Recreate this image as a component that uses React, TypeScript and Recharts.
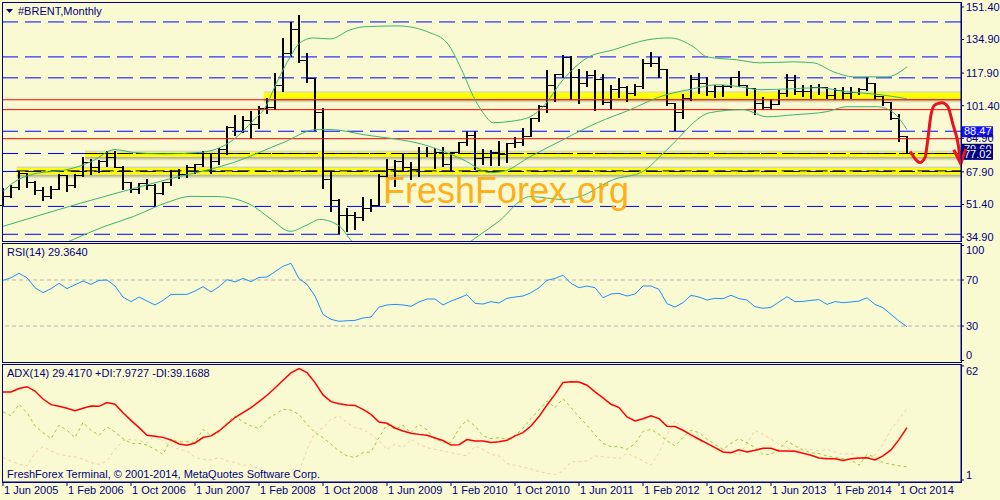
import React from 'react';
import {
  ComposedChart,
  Bar,
  Line,
  XAxis,
  YAxis,
  ReferenceLine,
  ReferenceArea,
  ReferenceDot
} from 'recharts';

const NAVY = '#000080';
const BG = '#FAFAD2';
const FONT = "'Liberation Sans Narrow', 'Liberation Sans', Arial, sans-serif";
const X_DOMAIN: [number, number] = [-0.125, 119.75];

// monthly Brent bars, Jun 2005 .. Nov 2014
const opens = [51.0, 55.6, 60.0, 66.9, 62.6, 58.4, 55.2,
  58.9, 66.3, 61.0, 66.0, 72.6, 70.3, 73.4, 75.3, 70.2, 62.5, 58.9, 61.9,
  60.9, 57.2, 62.3, 68.1, 66.6, 70.0, 71.4, 77.1, 72.9, 79.2, 90.4, 88.4,
  93.8, 91.8, 100.1, 100.3, 111.4, 127.6, 139.8, 124.1, 115.3, 98.2, 64.2, 53.2,
  45.6, 45.9, 44.8, 49.2, 50.9, 65.6, 69.3, 73.2, 69.9, 69.1, 77.0, 77.3,
  77.9, 71.5, 77.6, 82.7, 86.2, 74.6, 75.0, 77.9, 76.6, 82.3, 83.0, 85.9,
  94.8, 101.0, 111.8, 117.4, 125.9, 115.8, 112.5, 116.7, 114.9, 102.8, 109.6, 110.5,
  107.4, 110.9, 122.7, 122.9, 119.5, 102.4, 97.8, 104.9, 114.6, 112.4, 108.7, 111.2,
  111.1, 115.6, 111.4, 110.0, 102.4, 100.4, 102.2, 107.7, 114.1, 108.4, 108.8, 110.8,
  110.8, 106.4, 109.1, 107.8, 108.1, 109.4, 112.4, 106.0, 103.2, 94.7, 85.9];
const highs = [59.5, 61.0, 68.5, 67.5, 63.3, 60.0, 60.6,
  67.0, 66.5, 66.8, 75.5, 74.6, 73.8, 78.6, 78.7, 70.9, 62.9, 62.3, 64.4,
  61.8, 62.6, 68.6, 69.4, 71.3, 72.0, 78.6, 77.6, 80.1, 91.0, 96.5, 96.0,
  98.5, 101.4, 105.5, 117.9, 135.6, 143.8, 147.4, 128.0, 115.4, 100.4, 68.2, 54.0,
  49.5, 47.8, 55.4, 54.0, 66.9, 74.6, 73.8, 77.2, 72.7, 80.5, 80.4, 80.2,
  80.6, 78.0, 83.0, 88.7, 88.6, 79.5, 78.9, 83.3, 82.5, 85.4, 89.9, 95.0,
  101.9, 119.5, 117.6, 127.2, 126.4, 120.1, 119.0, 119.3, 117.4, 112.1, 115.6, 111.6,
  112.2, 125.0, 128.4, 126.2, 120.0, 102.6, 107.5, 116.9, 117.9, 116.0, 112.0, 112.0,
  116.0, 119.2, 112.0, 110.5, 106.0, 105.0, 109.3, 117.3, 117.0, 111.8, 112.0, 112.4,
  111.0, 110.6, 110.7, 110.7, 110.4, 115.7, 113.0, 106.3, 103.5, 97.0, 86.3];
const lows = [50.5, 54.6, 58.9, 59.8, 56.4, 53.1, 54.2,
  58.6, 57.8, 59.8, 65.4, 66.2, 67.4, 70.4, 69.8, 58.9, 57.2, 56.8, 58.5,
  50.0, 56.2, 60.6, 64.1, 64.6, 67.0, 70.2, 66.6, 71.6, 76.6, 86.0, 87.6,
  84.4, 89.6, 97.2, 99.4, 108.2, 126.0, 123.0, 113.0, 88.4, 59.0, 47.5, 36.2,
  37.5, 38.6, 42.8, 47.6, 50.6, 64.9, 60.3, 67.8, 63.6, 65.3, 75.5, 69.6,
  70.6, 68.4, 76.8, 80.9, 68.6, 71.5, 71.1, 71.0, 72.6, 80.2, 81.0, 85.6,
  92.9, 97.8, 103.1, 115.4, 104.5, 102.4, 110.8, 98.7, 101.6, 99.1, 105.2, 103.1,
  106.4, 109.8, 121.0, 115.6, 101.5, 88.5, 94.5, 104.0, 107.5, 106.5, 105.3, 105.7,
  110.5, 110.8, 106.5, 96.8, 99.2, 99.0, 102.0, 106.0, 106.6, 105.7, 104.7, 107.0,
  104.9, 104.5, 104.5, 104.6, 107.0, 108.7, 104.4, 101.2, 94.3, 83.0, 77.0];
const closes = [55.6, 60.0, 66.9, 62.6, 58.4, 55.2, 58.9,
  66.3, 61.0, 66.0, 72.6, 70.3, 73.4, 75.3, 70.2, 62.5, 58.9, 61.9, 60.9,
  57.2, 62.3, 68.1, 66.6, 70.0, 71.4, 77.1, 72.9, 79.2, 90.4, 88.4, 93.8,
  91.8, 100.1, 100.3, 111.4, 127.6, 139.8, 124.1, 115.3, 98.2, 64.2, 53.2, 45.6,
  45.9, 44.8, 49.2, 50.9, 65.6, 69.3, 73.2, 69.9, 69.1, 77.0, 77.3, 77.9,
  71.5, 77.6, 82.7, 86.2, 74.6, 75.0, 77.9, 76.6, 82.3, 83.0, 85.9, 94.8,
  101.0, 111.8, 117.4, 125.9, 115.8, 112.5, 116.7, 114.9, 102.8, 109.6, 110.5, 107.4,
  110.9, 122.7, 122.9, 119.5, 102.4, 97.8, 104.9, 114.6, 112.4, 108.7, 111.2, 111.1,
  115.6, 111.4, 110.0, 102.4, 100.4, 102.2, 107.7, 114.1, 108.4, 108.8, 110.8, 110.8,
  106.4, 109.1, 107.8, 108.1, 109.4, 112.4, 106.0, 103.2, 94.7, 85.9, 77.02];

// Bollinger bands, read as [month index, price]
const upperBand = [[0, 58], [1.5, 63], [4, 67], [8, 69], [11, 73], [14, 79.2], [16.3, 77.7], [20, 77],
  [24.6, 77.7], [28.8, 84.2], [31.3, 94], [32.75, 100.4], [34.2, 113], [35.9, 126.1], [37.1, 133.2],
  [38.8, 135.7], [40.9, 135.2], [43.4, 139.8], [45, 141.3], [49.3, 141.8], [53.4, 138.3], [55.5, 133.2],
  [57.5, 118.1], [58.8, 106], [60, 97.9], [61.3, 92.8], [63.5, 93.5], [65.9, 95.8], [67.5, 100.9],
  [70, 114.5], [73, 125.6], [76.3, 129.7], [80.5, 134.7], [83.4, 135.7], [86.3, 131.2], [88, 126.1],
  [91.8, 124.6], [94.6, 123.1], [98.8, 123.6], [101.3, 123.1], [103.8, 118.6], [106.3, 116],
  [110.5, 116], [113, 121.1]];
const middleBand = [[0, 40.3], [10, 52.4], [20.5, 64], [28.8, 72.6], [35, 82.7], [39.2, 89.3], [41, 89.3],
  [45, 86.8], [53.4, 80.7], [57.5, 74.1], [60.9, 67.5], [62.5, 68.1], [65.9, 75.6], [70, 84.2],
  [74.3, 92.8], [78.4, 99.4], [82.1, 105.9], [86.3, 110], [89.3, 112], [92.1, 111], [94.6, 109.5],
  [98.8, 110], [101.8, 110.5], [105.5, 108.5], [109.6, 107], [113, 104.9]];
const lowerBand = [[0, 21], [5, 27], [8.8, 33.7], [12.5, 40], [16.3, 45.3], [20.5, 52.4], [23.5, 55.5],
  [26.8, 55.4], [30.9, 51.4], [33.5, 44], [35.9, 37.8], [38, 41], [39.6, 43.8], [42.1, 40.3],
  [43.4, 33.7], [47, 22], [51, 17], [55, 22], [58.8, 33.7], [61.8, 42.3], [65.9, 55.4], [70, 53.9],
  [72.1, 55.4], [76.3, 64], [80, 68.1], [82.1, 75.6], [84.6, 85.7], [86.3, 92.8], [88.4, 97.9],
  [92.5, 99.4], [95.5, 95.8], [98.8, 96.8], [103, 98.4], [105.5, 100.9], [109.3, 100.9],
  [111.3, 97.9], [113, 89.3]];

// hand-drawn forecast arrow, [month index, price]
const forecastPath = [[113.4, 78.2], [114.0, 74.6], [114.6, 72.6], [115.25, 75.1], [115.6, 84.2],
  [116.0, 96.9], [116.5, 101.9], [117.4, 102.9], [118.1, 100.9], [118.75, 91.8], [119.4, 81.7],
  [119.72, 72]];

const rsi = [69.7, 72.0, 75.8, 72.0, 63.3, 59.0, 62.5, 67.1, 62.5, 65.9, 69.1, 66.2, 69.7, 70.0, 64.8,
  55.2, 51.2, 55.2, 51.7, 48.3, 52.3, 57.5, 57.5, 57.5, 60.4, 64.2, 59.6, 64.2, 70.3, 68.3, 71.4,
  68.6, 72.3, 72.6, 77.2, 81.9, 84.5, 71.2, 66.2, 56.1, 40.1, 35.8, 34.1, 34.6, 34.9, 37.0, 37.8,
  46.5, 48.3, 48.8, 48.3, 47.1, 50.9, 53.5, 53.5, 48.3, 51.7, 54.3, 57.2, 49.7, 49.1, 51.2, 50.0,
  54.1, 55.2, 56.1, 59.0, 63.3, 69.7, 71.4, 74.1, 67.1, 63.3, 64.8, 63.3, 54.6, 57.8, 58.4, 56.1,
  57.8, 64.8, 64.8, 61.9, 49.4, 46.5, 50.3, 56.7, 55.2, 52.6, 54.1, 53.8, 56.7, 53.8, 52.6, 46.8,
  45.4, 46.2, 50.9, 55.5, 51.2, 51.4, 52.3, 52.9, 48.8, 51.2, 50.3, 50.9, 51.7, 54.6, 48.8, 45.9,
  40.1, 34.3, 29.4];

const adx = [48.1, 48.1, 49.9, 50.9, 48.6, 44.3, 41.3, 40.4, 39.4, 38.1, 39.4, 40.6, 40.4, 42.4, 41.5,
  37.0, 32.9, 29.0, 24.9, 24.4, 23.8, 22.4, 20.3, 19.6, 20.8, 23.7, 24.6, 27.2, 30.8, 34.4, 37.0,
  39.7, 42.9, 46.3, 50.2, 54.3, 58.3, 60.6, 58.4, 53.1, 46.5, 42.9, 41.8, 41.1, 40.9, 38.8, 36.1,
  32.0, 31.3, 28.8, 27.2, 26.0, 25.4, 24.9, 23.5, 22.1, 19.7, 19.9, 22.6, 21.9, 21.9, 21.0, 21.4,
  22.2, 24.6, 26.3, 29.9, 34.9, 41.1, 46.8, 53.1, 53.6, 53.4, 51.7, 48.1, 44.9, 41.5, 39.7, 34.7,
  32.6, 33.8, 35.3, 33.8, 29.7, 29.6, 27.6, 25.1, 22.8, 20.6, 18.3, 16.0, 15.6, 17.2, 16.0, 16.9,
  18.0, 18.0, 16.5, 16.5, 16.4, 15.3, 14.2, 12.8, 12.4, 12.4, 11.5, 12.4, 12.8, 12.9, 11.7, 13.9,
  17.1, 22.6, 29.0];
const plusDi = [37.4, 35.3, 41.5, 37.0, 29.9, 26.3, 23.1, 30.3, 27.6, 23.7, 31.7, 27.6, 24.9, 29.4, 26.7,
  23.1, 20.6, 20.6, 19.7, 17.4, 14.7, 22.8, 21.3, 21.5, 21.0, 28.1, 24.6, 26.3, 31.7, 35.3, 32.0,
  29.9, 28.5, 33.5, 36.1, 38.8, 38.4, 36.1, 30.8, 26.3, 23.7, 20.1, 16.5, 13.9, 13.0, 15.6, 16.0,
  23.7, 30.8, 28.1, 30.3, 26.3, 30.8, 27.8, 22.8, 21.3, 21.0, 28.5, 33.2, 29.9, 24.6, 23.1, 23.7,
  22.8, 24.6, 28.7, 34.0, 38.5, 43.3, 39.7, 44.5, 39.7, 34.7, 30.3, 25.1, 20.6, 18.8, 18.8, 17.4,
  20.4, 27.0, 28.1, 25.4, 21.9, 19.2, 23.7, 27.6, 26.3, 22.8, 20.1, 17.4, 20.6, 23.1, 21.0, 18.3,
  14.7, 14.7, 17.4, 21.9, 19.2, 17.1, 15.6, 15.1, 13.9, 13.0, 12.4, 11.7, 8.9, 14.7, 13.3, 10.3,
  9.4, 8.6, 8.0];
const minusDi = [13.0, 11.2, 9.4, 8.5, 15.6, 18.8, 16.5, 14.7, 13.9, 13.4, 12.1, 10.3, 9.4, 11.2, 17.4,
  22.1, 22.8, 22.1, 21.0, 24.6, 21.9, 19.2, 17.4, 16.5, 13.0, 12.1, 11.7, 13.0, 11.2, 10.3, 8.9,
  8.9, 6.7, 5.0, 3.5, 2.8, 2.8, 5.0, 17.4, 26.3, 28.9, 33.5, 35.3, 31.7, 28.9, 28.1, 25.4,
  21.9, 17.4, 20.1, 18.3, 22.8, 20.1, 18.3, 17.4, 16.5, 15.6, 14.7, 13.9, 19.2, 17.4, 14.7, 13.9,
  9.7, 8.9, 7.9, 6.9, 5.5, 4.6, 3.9, 5.7, 10.8, 10.8, 11.2, 13.9, 13.4, 13.0, 12.4, 15.3,
  13.4, 11.2, 8.9, 15.6, 24.9, 32.6, 28.5, 23.7, 21.9, 20.1, 17.8, 17.4, 16.0, 14.3, 20.6, 27.6,
  25.4, 22.8, 20.1, 18.3, 16.5, 17.4, 17.4, 16.5, 17.4, 16.0, 14.7, 15.3, 13.0, 13.0, 14.3, 20.1,
  28.1, 33.5, 39.2];

const dateTicks = [0, 8, 16, 24, 32, 40, 48, 56, 64, 72, 80, 88, 96, 104, 112];
const dateLabels = ['1 Jun 2005', '1 Feb 2006', '1 Oct 2006', '1 Jun 2007', '1 Feb 2008', '1 Oct 2008',
  '1 Jun 2009', '1 Feb 2010', '1 Oct 2010', '1 Jun 2011', '1 Feb 2012', '1 Oct 2012', '1 Jun 2013',
  '1 Feb 2014', '1 Oct 2014'];
const priceTicks = [34.9, 51.4, 67.9, 84.9, 101.4, 117.9, 134.9, 151.4];
const blueLevels = [143.8, 126.1, 115.5, 88.47, 77.2, 68.1, 50.4, 36.3];
const redLevels = [104.4, 99.4, 84.7];

const bars = opens.map((o, i) => ({ x: i, hl: [lows[i], highs[i]], o, h: highs[i], l: lows[i], c: closes[i] }));
const toPts = (arr: number[][]) => arr.map(([x, v]) => ({ x, v }));
const indicatorData = rsi.map((r, i) => ({ x: i, rsi: r, adx: adx[i], pdi: plusDi[i], mdi: minusDi[i] }));

const OhlcBar = (props: any) => {
  const { x, y, width, height, payload } = props;
  if (!payload || height == null) return null;
  const cx = Math.round(x + width / 2);
  const span = payload.h - payload.l || 1;
  const yo = y + ((payload.h - payload.o) / span) * height;
  const yc = y + ((payload.h - payload.c) / span) * height;
  return (
    <g stroke="#000" shapeRendering="crispEdges">
      <line x1={cx} x2={cx} y1={y} y2={y + height} strokeWidth={2} />
      <line x1={cx - 4} x2={cx} y1={yo} y2={yo} strokeWidth={1} />
      <line x1={cx + 1} x2={cx + 5} y1={yc} y2={yc} strokeWidth={1} />
    </g>
  );
};

const priceTag = (text: string, fill: string) => (props: any) => {
  const vb = props.viewBox || {};
  const x = vb.x + vb.width + 1;
  const y = vb.y;
  return (
    <g>
      <rect x={x} y={y - 5} width={31} height={11} fill={fill} />
      <text x={x + 2} y={y + 4} fill="#fff" fontSize={11} fontFamily={FONT}>{text}</text>
    </g>
  );
};

const edgeTick = (top: number, bottom: number) => (props: any) => {
  const { x, y, payload } = props;
  const v = payload.value;
  const dy = v === top ? 5 : v === bottom ? -5 : 0;
  return (
    <text x={x} y={y + dy} dy="0.355em" textAnchor="start" fill={NAVY} fontSize={11} fontFamily={FONT}>{v}</text>
  );
};

const DateTick = (props: any) => {
  const { x, y, payload } = props;
  const k = dateTicks.indexOf(payload.value);
  return (
    <text x={x + 1} y={y + 7} textAnchor="start" fill={NAVY} fontSize={11} fontFamily={FONT}>
      {dateLabels[k]}
    </text>
  );
};

const yellowBands = [
  { x1: 32.6, y1: 104.9, y2: 108.0 },
  { x1: 10.25, y1: 75.6, y2: 77.9 },
  { x1: 1.7, y1: 66.6, y2: 69.9 }
];

const frame = (top: number, height: number): React.CSSProperties => ({
  position: 'absolute', left: 2, top, width: 960, height, boxSizing: 'border-box',
  border: `1px solid ${NAVY}`, pointerEvents: 'none'
});

const BrentChart: React.FC = () => {
  return (
    <div style={{ position: 'absolute', left: 0, top: 0, width: 1000, height: 500, background: BG, overflow: 'hidden' }}>
      <div style={{ position: 'absolute', left: 0, top: 0 }}>
        <ComposedChart width={1000} height={243} data={bars} margin={{ top: 2, right: 0, bottom: 2, left: 2 }}>
          <defs>
            <linearGradient id="shadeDown" x1="0" y1="0" x2="0" y2="1">
              <stop offset="0%" stopColor="#6e6a50" stopOpacity={0.6} />
              <stop offset="100%" stopColor="#6e6a50" stopOpacity={0} />
            </linearGradient>
            <linearGradient id="shadeUp" x1="0" y1="1" x2="0" y2="0">
              <stop offset="0%" stopColor="#6e6a50" stopOpacity={0.3} />
              <stop offset="100%" stopColor="#6e6a50" stopOpacity={0} />
            </linearGradient>
          </defs>
          <XAxis dataKey="x" type="number" domain={X_DOMAIN} hide />
          <YAxis
            orientation="right"
            type="number"
            domain={[32.9, 153.9]}
            ticks={priceTicks}
            interval={0}
            allowDataOverflow
            width={39}
            tickFormatter={(v: number) => v.toFixed(2)}
            tick={{ fill: NAVY, fontSize: 11, fontFamily: FONT }}
            tickSize={3}
            tickMargin={2}
            axisLine={{ stroke: NAVY }}
            tickLine={{ stroke: NAVY }}
          />
          <YAxis yAxisId="arrow" hide type="number" domain={[32.9, 153.9]} />
          {yellowBands.map((b, i) => (
            <ReferenceArea key={`sd${i}`} x1={b.x1} x2={119.75} y1={b.y1 - 2.2} y2={b.y1} fill="url(#shadeDown)" fillOpacity={1} stroke="none" />
          ))}
          {yellowBands.map((b, i) => (
            <ReferenceArea key={`su${i}`} x1={b.x1} x2={119.75} y1={b.y2} y2={b.y2 + 1.2} fill="url(#shadeUp)" fillOpacity={1} stroke="none" />
          ))}
          {yellowBands.map((b, i) => (
            <ReferenceArea key={`yb${i}`} x1={b.x1} x2={119.75} y1={b.y1} y2={b.y2} fill="#FFFF00" fillOpacity={1} stroke="none" />
          ))}
          {blueLevels.map((v) => (
            <ReferenceLine key={`bl${v}`} y={v} stroke="#0000FF" strokeDasharray="16 7" />
          ))}
          {redLevels.map((v) => (
            <ReferenceLine key={`rl${v}`} y={v} stroke="#FF0000" />
          ))}
          <ReferenceLine segment={[{ x: 10.25, y: 77.2 }, { x: 119.75, y: 77.2 }]} stroke="#000" strokeDasharray="12 5" />
          <ReferenceLine segment={[{ x: 1.7, y: 68.4 }, { x: 119.75, y: 68.4 }]} stroke="#000" strokeDasharray="12 5" />
          <Line data={toPts(upperBand)} dataKey="v" type="monotone" stroke="#3CB371" strokeWidth={1} dot={false} isAnimationActive={false} />
          <Line data={toPts(middleBand)} dataKey="v" type="monotone" stroke="#3CB371" strokeWidth={1} dot={false} isAnimationActive={false} />
          <Line data={toPts(lowerBand)} dataKey="v" type="monotone" stroke="#3CB371" strokeWidth={1} dot={false} isAnimationActive={false} />
          <Bar dataKey="hl" barSize={6} shape={OhlcBar} isAnimationActive={false} />
          <Line yAxisId="arrow" data={toPts(forecastPath)} dataKey="v" type="monotone" stroke="#E8141E" strokeWidth={3} dot={false} isAnimationActive={false} />
          <ReferenceDot
            yAxisId="arrow"
            x={119.72}
            y={72}
            ifOverflow="visible"
            shape={(p: any) => (
              <path d={`M${p.cx - 7} ${p.cy - 14} L${p.cx} ${p.cy} L${p.cx + 5} ${p.cy - 15}`} stroke="#E8141E" strokeWidth={3} fill="none" />
            )}
          />
          <ReferenceLine y={79.6} stroke="none" label={priceTag('79.60', NAVY)} />
          <ReferenceLine y={77.02} stroke="none" label={priceTag('77.02', NAVY)} />
          <ReferenceLine y={88.47} stroke="none" label={priceTag('88.47', '#1414F5')} />
        </ComposedChart>
      </div>

      <div style={{ position: 'absolute', left: 0, top: 243 }}>
        <ComposedChart width={1000} height={119} data={indicatorData} margin={{ top: 1, right: 0, bottom: 1, left: 2 }}>
          <XAxis dataKey="x" type="number" domain={X_DOMAIN} hide />
          <YAxis
            orientation="right"
            type="number"
            domain={[-0.4, 101.3]}
            ticks={[0, 30, 70, 100]}
            interval={0}
            width={39}
            tick={edgeTick(100, 0)}
            tickSize={3}
            tickMargin={2}
            axisLine={{ stroke: NAVY }}
            tickLine={{ stroke: NAVY }}
          />
          <ReferenceLine y={70} stroke="#B4B4B4" strokeDasharray="4 3" />
          <ReferenceLine y={30} stroke="#B4B4B4" strokeDasharray="4 3" />
          <Line dataKey="rsi" type="linear" stroke="#1E90FF" strokeWidth={1} dot={false} isAnimationActive={false} />
        </ComposedChart>
      </div>

      <div style={{ position: 'absolute', left: 0, top: 364 }}>
        <ComposedChart width={1000} height={136} data={indicatorData} margin={{ top: 1, right: 0, bottom: 0, left: 2 }}>
          <XAxis
            dataKey="x"
            type="number"
            domain={X_DOMAIN}
            ticks={dateTicks}
            interval={0}
            height={18}
            tick={DateTick}
            tickSize={4}
            tickMargin={1}
            axisLine={{ stroke: NAVY }}
            tickLine={{ stroke: NAVY }}
          />
          <YAxis
            orientation="right"
            type="number"
            domain={[-0.07, 62.5]}
            ticks={[1, 62]}
            interval={0}
            width={39}
            tick={edgeTick(62, 1)}
            tickSize={3}
            tickMargin={2}
            axisLine={{ stroke: NAVY }}
            tickLine={{ stroke: NAVY }}
          />
          <Line dataKey="mdi" type="linear" stroke="#F5CFA6" strokeWidth={1} strokeDasharray="3 3" dot={false} isAnimationActive={false} />
          <Line dataKey="pdi" type="linear" stroke="#9ACD32" strokeWidth={1} strokeDasharray="3 3" dot={false} isAnimationActive={false} />
          <Line dataKey="adx" type="linear" stroke="#FF0000" strokeWidth={1.5} dot={false} isAnimationActive={false} />
        </ComposedChart>
      </div>

      <svg width={1000} height={500} style={{ position: 'absolute', left: 0, top: 0, pointerEvents: 'none' }}>
        <text x={383} y={203} fontSize={36} fontFamily="'Liberation Sans', Arial, sans-serif" fill="#FFA500" fillOpacity={0.9}>
          FreshForex.org
        </text>
        <path d="M6 9 L13 9 L9.5 13 Z" fill={NAVY} />
        <g fill={NAVY} fontSize={11} fontFamily={FONT}>
          <text x={18} y={15}>#BRENT,Monthly</text>
          <text x={7} y={256}>RSI(14) 29.3640</text>
          <text x={7} y={377}>ADX(14) 29.4170 +DI:7.9727 -DI:39.1688</text>
          <text x={7} y={478}>FreshForex Terminal, © 2001-2014, MetaQuotes Software Corp.</text>
        </g>
      </svg>

      <div style={frame(2, 240)} />
      <div style={frame(243, 120)} />
      <div style={frame(364, 119)} />
    </div>
  );
};

export default BrentChart;
